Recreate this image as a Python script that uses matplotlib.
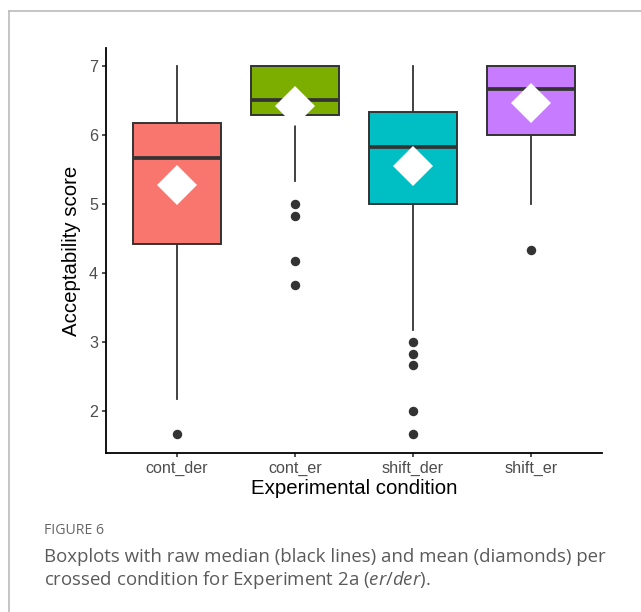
import matplotlib
matplotlib.use("Agg")
import matplotlib.pyplot as plt
from matplotlib.lines import Line2D

# values
conditions = ["cont_der", "cont_er", "shift_der", "shift_er"]
colors = ["#F8766D", "#7CAE00", "#00BFC4", "#C77CFF"]
q1 = [4.417, 6.29, 5.0, 6.0]
medians = [5.667, 6.5, 5.833, 6.667]
q3 = [6.167, 7.0, 6.333, 7.0]
whisk_lo = [2.167, 5.333, 3.167, 5.0]
whisk_hi = [7.0, 7.0, 7.0, 7.0]
means = [5.27, 6.42, 5.555, 6.46]
outliers = [
    [1.667],
    [5.0, 4.833, 4.167, 3.833],
    [3.0, 2.833, 2.667, 2.0, 1.667],
    [4.333],
]

plt.rcParams["mathtext.fontset"] = "custom"
plt.rcParams["mathtext.it"] = "Open Sans:italic"
plt.rcParams["mathtext.rm"] = "Open Sans"

fig = plt.figure(figsize=(6.41, 6.12), dpi=100)
ax = fig.add_axes([0.1654, 0.2598, 0.7736, 0.6618])

stats = []
for i in range(len(conditions)):
    stats.append(dict(med=medians[i], q1=q1[i], q3=q3[i],
                      whislo=whisk_lo[i], whishi=whisk_hi[i],
                      fliers=outliers[i], label=conditions[i]))

positions = list(range(1, len(conditions) + 1))
edge = "#333333"
bp = ax.bxp(stats, positions=positions, widths=0.75, patch_artist=True,
            showcaps=False,
            boxprops=dict(edgecolor=edge, linewidth=1.4),
            whiskerprops=dict(color=edge, linewidth=1.3),
            medianprops=dict(color=edge, linewidth=2.7, solid_capstyle="butt"),
            flierprops=dict(marker="o", markerfacecolor=edge, markeredgecolor=edge,
                            markersize=5.8, linestyle="none"))
for patch, c in zip(bp["boxes"], colors):
    patch.set_facecolor(c)

ax.plot(positions, means, linestyle="none", marker="D", markersize=20.4,
        markerfacecolor="white", markeredgewidth=0, zorder=5)

ax.set_xlim(0.4, 4.6)
ax.set_ylim(1.391, 7.261)
ax.set_yticks([2, 3, 4, 5, 6, 7])
ax.set_xticks(positions)
ax.set_xticklabels(conditions)

for s in ["top", "right"]:
    ax.spines[s].set_visible(False)
for s in ["left", "bottom"]:
    ax.spines[s].set_linewidth(1.3)
    ax.spines[s].set_color("black")
ax.tick_params(axis="both", length=3.2, width=1.2, color="#333333",
               labelcolor="#4D4D4D", labelsize=11.6, pad=2.5)
for lab in ax.get_xticklabels() + ax.get_yticklabels():
    lab.set_family(["Liberation Sans", "DejaVu Sans"])

ax.set_xlabel("Experimental condition", fontsize=14.7, family=["Liberation Sans", "DejaVu Sans"],
              labelpad=2)
ax.set_ylabel("Acceptability score", fontsize=14.7, family=["Liberation Sans", "DejaVu Sans"],
              labelpad=6)

# panel frame
frame_col = "#BBBBBB"
fig.add_artist(Line2D([9 / 641, 9 / 641], [0, 1 - 11 / 612], transform=fig.transFigure,
                      color=frame_col, linewidth=1.2))
fig.add_artist(Line2D([9 / 641, 1], [1 - 11 / 612, 1 - 11 / 612], transform=fig.transFigure,
                      color=frame_col, linewidth=1.2))

# caption
fig.text(44 / 641, 1 - 530 / 612, "FIGURE 6", fontsize=10.2, color="#666666",
         family=["Open Sans", "DejaVu Sans"], va="center")
fig.text(44 / 641, 1 - 557 / 612,
         "Boxplots with raw median (black lines) and mean (diamonds) per",
         fontsize=13.4, color="#5A5A5A", family=["Open Sans", "DejaVu Sans"], va="center")
fig.text(44 / 641, 1 - 580 / 612,
         r"crossed condition for Experiment 2a ($\it{er}$/$\it{der}$).",
         fontsize=13.4, color="#5A5A5A", family=["Open Sans", "DejaVu Sans"], va="center")

fig.savefig("out.png", dpi=100)
